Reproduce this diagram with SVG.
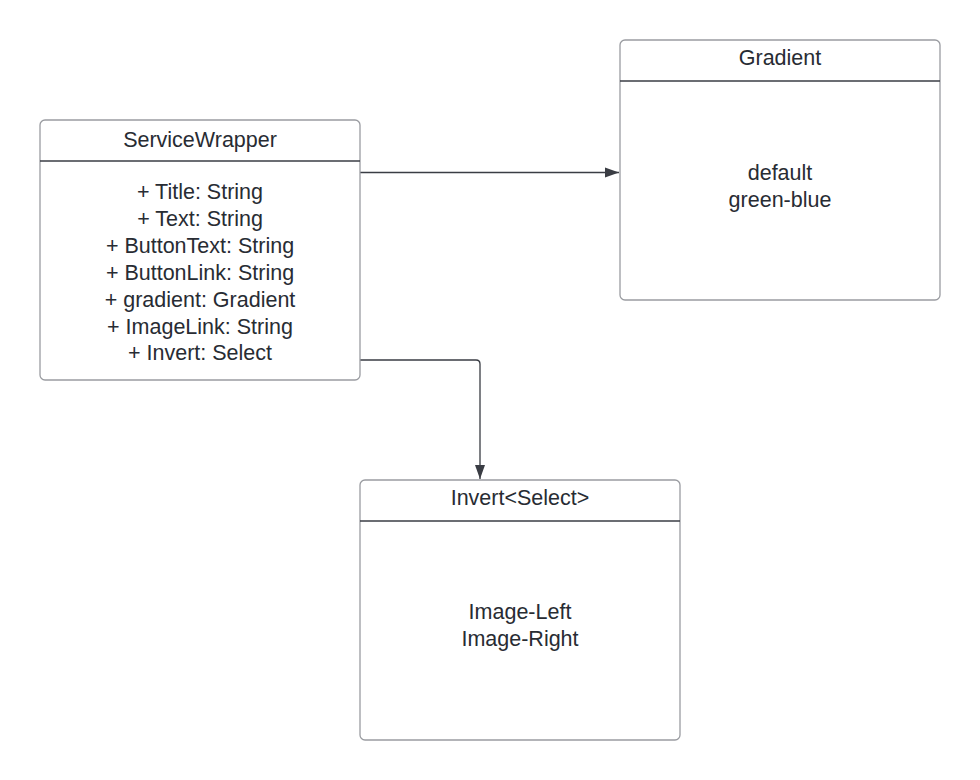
<svg xmlns="http://www.w3.org/2000/svg" width="980" height="780" viewBox="0 0 980 780">
<style>
.box{fill:#ffffff;stroke:#9a9ca1;stroke-width:1.3}
.div{stroke:#3a3d44;stroke-width:1.3}
.t{font-family:"Liberation Sans",Arial,sans-serif;font-size:21.5px;fill:#282c33;text-anchor:middle}
.c{fill:none;stroke:#3a3d44;stroke-width:1.3}
</style>
<defs>
<marker id="arr" markerWidth="14" markerHeight="12" refX="14" refY="6" orient="auto" markerUnits="userSpaceOnUse">
<path d="M0,1 L14,6 L0,11 Z" fill="#3a3d44"/>
</marker>
</defs>
<rect width="980" height="780" fill="#ffffff"/>
<g id="connectors">
<path class="c" d="M360,172.5 L619,172.5" marker-end="url(#arr)"/>
<path class="c" d="M360,360 L476,360 Q480,360 480,364 L480,479" marker-end="url(#arr)"/>
</g>
<g id="ServiceWrapper">
<rect class="box" x="40" y="120" width="320" height="260" rx="5"/>
<line class="div" x1="40" y1="161" x2="360" y2="161"/>
<text class="t" x="200" y="147">ServiceWrapper</text>
<text class="t" x="200" y="199">+ Title: String</text>
<text class="t" x="200" y="226">+ Text: String</text>
<text class="t" x="200" y="253">+ ButtonText: String</text>
<text class="t" x="200" y="280">+ ButtonLink: String</text>
<text class="t" x="200" y="307">+ gradient: Gradient</text>
<text class="t" x="200" y="334">+ ImageLink: String</text>
<text class="t" x="200" y="360">+ Invert: Select</text>
</g>
<g id="Gradient">
<rect class="box" x="620" y="40" width="320" height="260" rx="5"/>
<line class="div" x1="620" y1="81" x2="940" y2="81"/>
<text class="t" x="780" y="65">Gradient</text>
<text class="t" x="780" y="180">default</text>
<text class="t" x="780" y="207">green-blue</text>
</g>
<g id="InvertSelect">
<rect class="box" x="360" y="480" width="320" height="260" rx="5"/>
<line class="div" x1="360" y1="521" x2="680" y2="521"/>
<text class="t" x="520" y="505">Invert&lt;Select&gt;</text>
<text class="t" x="520" y="619">Image-Left</text>
<text class="t" x="520" y="646">Image-Right</text>
</g>
</svg>
